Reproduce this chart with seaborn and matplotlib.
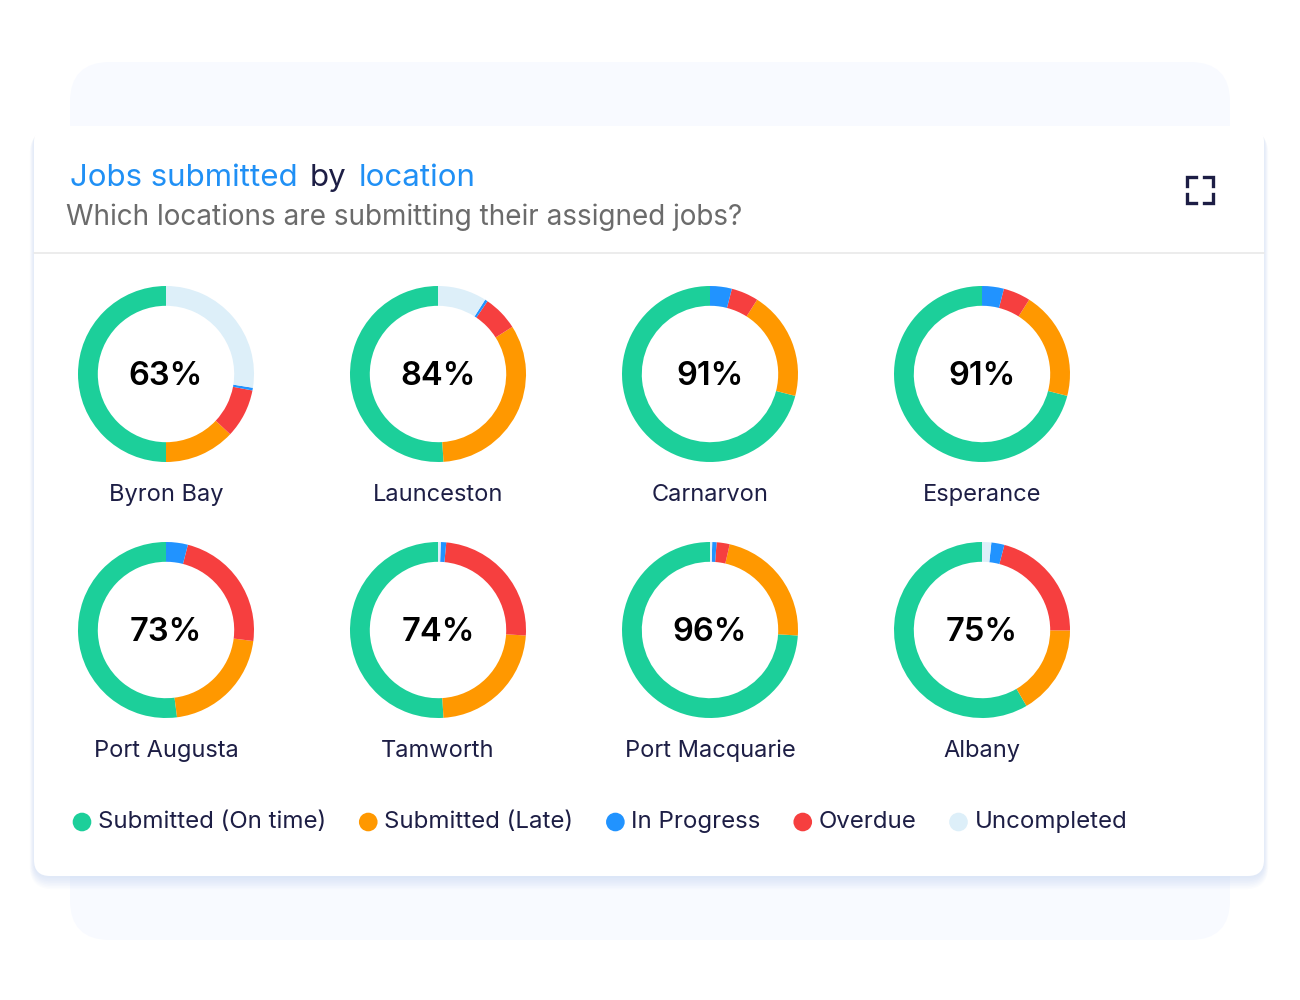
import matplotlib
matplotlib.use('Agg')
import matplotlib.pyplot as plt
from matplotlib.patches import FancyBboxPatch
import seaborn as sns

sns.set_theme(style='white')
plt.rcParams['font.family'] = ['Inter', 'DejaVu Sans']

# data (percent of assigned jobs per location)
locations = ['Byron Bay', 'Launceston', 'Carnarvon', 'Esperance',
             'Port Augusta', 'Tamworth', 'Port Macquarie', 'Albany']
on_time = [50, 51, 71, 71, 52, 51, 74, 58.5]
late = [13, 33, 20, 20, 21, 23, 22.4, 16.5]
overdue = [9, 6.5, 5, 5, 23, 24.5, 2.4, 21]
in_progress = [0.5, 0.5, 4, 4, 4, 1, 0.8, 2.4]
uncompleted = [27.5, 9, 0, 0, 0, 0.5, 0.4, 1.7]

status_labels = ['Submitted (On time)', 'Submitted (Late)', 'In Progress', 'Overdue', 'Uncompleted']
status_colors = {'Submitted (On time)': '#1ccf9a', 'Submitted (Late)': '#ff9800',
                 'In Progress': '#2193ff', 'Overdue': '#f63f3f', 'Uncompleted': '#ddeff9'}
BLUE = '#2090f5'
NAVY = '#1d1e45'
GREY = '#6b6b6b'

W, H = 1300, 1000
fig = plt.figure(figsize=(W / 100, H / 100), dpi=100)
bg = fig.add_axes([0, 0, 1, 1])
bg.set_xlim(0, W)
bg.set_ylim(H, 0)
bg.axis('off')

# back card
bg.add_patch(FancyBboxPatch((70, 62), 1160, 878, boxstyle='round,pad=0,rounding_size=40',
                            fc='#f8faff', ec='none', zorder=1))
# soft shadow of front card, mostly below it
for i in range(8):
    bg.add_patch(FancyBboxPatch((34 - i * 0.6, 126 + 2 + i * 0.4), 1230 + 1.2 * i, 750 + 1.2 * i,
                                boxstyle=f'round,pad=0,rounding_size={16 + i}',
                                fc='#9dbbe6', ec='none', alpha=0.04, zorder=2))
bg.add_patch(FancyBboxPatch((34, 126), 1230, 750, boxstyle='round,pad=0,rounding_size=16',
                            fc='white', ec='none', zorder=3))
bg.plot([34, 1264], [253, 253], color='#ebebeb', lw=1.3, zorder=4)

fig.canvas.draw()
renderer = fig.canvas.get_renderer()


def text_width(t):
    return t.get_window_extent(renderer).width


# title pieces
x = 70
for word, col in [('Jobs submitted', BLUE), ('by', NAVY), ('location', BLUE)]:
    t = bg.text(x, 186, word, color=col, fontsize=22.5, va='baseline', ha='left', zorder=5)
    x += text_width(t) + 12
bg.text(66, 225, 'Which locations are submitting their assigned jobs?', color=GREY,
        fontsize=20.1, va='baseline', ha='left', zorder=5)

# expand icon
for xs, ys in [([1187, 1187, 1196], [186, 177, 177]), ([1204, 1213, 1213], [177, 177, 186]),
               ([1187, 1187, 1196], [194, 203, 203]), ([1204, 1213, 1213], [203, 203, 194])]:
    bg.plot(xs, ys, color=NAVY, lw=2.4, solid_capstyle='projecting', solid_joinstyle='miter', zorder=5)

# donuts
col_x = [166, 438, 710, 982]
row_y = [374, 630]
R = 88
half = 110
for i, loc in enumerate(locations):
    cx = col_x[i % 4]
    cy = row_y[i // 4]
    ax = fig.add_axes([(cx - half) / W, (H - cy - half) / H, 2 * half / W, 2 * half / H])
    vals = [on_time[i], late[i], overdue[i], in_progress[i], uncompleted[i]]
    cols = [status_colors[s] for s in ['Submitted (On time)', 'Submitted (Late)', 'Overdue',
                                       'In Progress', 'Uncompleted']]
    keep = [(v, c) for v, c in zip(vals, cols) if v > 0]
    ax.pie([v for v, _ in keep], colors=[c for _, c in keep], startangle=90, counterclock=True,
           radius=1, wedgeprops=dict(width=0.225, linewidth=0))
    ax.set_xlim(-half / R, half / R)
    ax.set_ylim(-half / R, half / R)
    ax.set_aspect('equal')
    ax.patch.set_visible(False)
    pct = round(on_time[i] + late[i])
    ax.text(0, -0.03, f'{pct}%', ha='center', va='center', fontsize=23.5, fontweight='semibold',
            color='black')
    bg.text(cx, cy + 121, loc, ha='center', va='center', fontsize=17, color=NAVY, zorder=5)

# legend
x = 74
for s in status_labels:
    bg.scatter([x + 8], [822], s=180, color=status_colors[s], edgecolor='none', zorder=5)
    t = bg.text(x + 24, 822, s, ha='left', va='center', fontsize=17.3, color=NAVY, zorder=5)
    x += 24 + text_width(t) + 34

fig.savefig('out.png', dpi=100, facecolor='white')
